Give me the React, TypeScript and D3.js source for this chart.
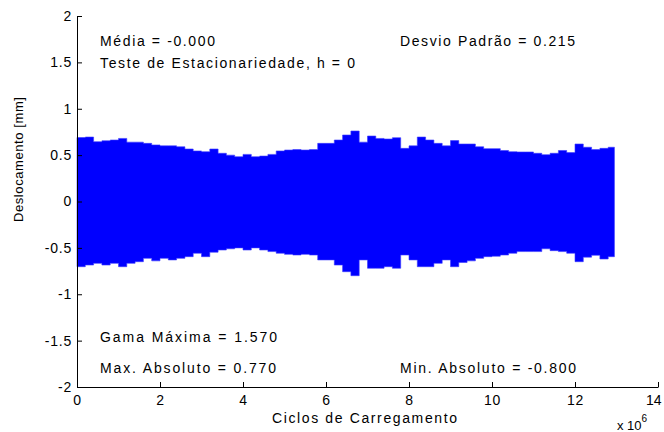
import { useEffect, useRef } from "react"
import * as d3 from "d3"

// envelope of the displacement signal, one value per 0.2e6 cycles
const upper: number[] = [
  0.69, 0.695, 0.645, 0.655, 0.663, 0.68, 0.64, 0.64, 0.627, 0.61,
  0.6, 0.6, 0.59, 0.566, 0.545, 0.537, 0.566, 0.52, 0.5, 0.483,
  0.508, 0.483, 0.49, 0.508, 0.545, 0.555, 0.56, 0.555, 0.56, 0.627,
  0.627, 0.663, 0.717, 0.76, 0.64, 0.706, 0.68, 0.674, 0.688, 0.573,
  0.6, 0.695, 0.663, 0.627, 0.6, 0.657, 0.62, 0.62, 0.59, 0.57,
  0.57, 0.55, 0.537, 0.534, 0.534, 0.52, 0.505, 0.52, 0.55, 0.527,
  0.62, 0.585, 0.56, 0.573, 0.585,
]
const lower: number[] = [
  -0.703, -0.685, -0.667, -0.685, -0.667, -0.703, -0.667, -0.649, -0.613, -0.64,
  -0.613, -0.63, -0.613, -0.595, -0.558, -0.595, -0.547, -0.523, -0.51, -0.5,
  -0.523, -0.5, -0.523, -0.54, -0.558, -0.57, -0.577, -0.57, -0.577, -0.63,
  -0.63, -0.685, -0.757, -0.8, -0.63, -0.72, -0.72, -0.703, -0.72, -0.577,
  -0.63, -0.703, -0.703, -0.667, -0.63, -0.703, -0.658, -0.64, -0.613, -0.595,
  -0.59, -0.577, -0.558, -0.54, -0.54, -0.54, -0.51, -0.53, -0.54, -0.558,
  -0.649, -0.6, -0.58, -0.62, -0.595,
]
const segmentWidth = 0.2 // x 10^6 cycles
const signalEnd = 12.95

const xTicks = [0, 2, 4, 6, 8, 10, 12, 14]
const yTicks = [-2, -1.5, -1, -0.5, 0, 0.5, 1, 1.5, 2]

const stats = [
  { text: "Média = -0.000", x: 100, y: 46, len: 115 },
  { text: "Teste de Estacionariedade, h = 0", x: 100, y: 68, len: 255 },
  { text: "Desvio Padrão = 0.215", x: 400, y: 46, len: 175 },
  { text: "Gama Máxima = 1.570", x: 100, y: 342, len: 177 },
  { text: "Max. Absoluto = 0.770", x: 100, y: 373, len: 176 },
  { text: "Min. Absoluto = -0.800", x: 400, y: 373, len: 176 },
]

type Seg = { x: number; hi: number; lo: number }

export default function App() {
  const svgRef = useRef<SVGSVGElement | null>(null)

  useEffect(() => {
    if (!svgRef.current) return
    const width = 664
    const height = 432
    const margin = { top: 16, right: 6, bottom: 45, left: 77 }
    const font = "'Liberation Sans', Arial, Helvetica, sans-serif"

    const svg = d3.select(svgRef.current).attr("width", width).attr("height", height)
    svg.selectAll("*").remove()
    svg.append("rect").attr("width", width).attr("height", height).attr("fill", "#fff")

    const x = d3.scaleLinear().domain([0, 14]).range([margin.left, width - margin.right])
    const y = d3.scaleLinear().domain([-2, 2]).range([height - margin.bottom, margin.top])

    const segs: Seg[] = upper.map((hi, i) => ({ x: i * segmentWidth, hi, lo: lower[i] }))
    segs.push({ x: signalEnd, hi: upper[upper.length - 1], lo: lower[lower.length - 1] })

    const area = d3
      .area<Seg>()
      .x(d => x(d.x))
      .y0(d => y(d.lo))
      .y1(d => y(d.hi))
      .curve(d3.curveStepAfter)

    svg
      .append("path")
      .datum(segs)
      .attr("fill", "#0000ff")
      .attr("stroke", "#3a3aff")
      .attr("stroke-width", 0.6)
      .attr("d", area)

    // axes, inward ticks like MATLAB
    const gx = svg
      .append("g")
      .attr("transform", `translate(0, ${y(-2)})`)
      .call(
        d3.axisBottom(x).tickValues(xTicks).tickSizeInner(-5).tickSizeOuter(0).tickPadding(8)
          .tickFormat(d => String(d))
      )
    const gy = svg
      .append("g")
      .attr("transform", `translate(${x(0)}, 0)`)
      .call(
        d3.axisLeft(y).tickValues(yTicks).tickSizeInner(-5).tickSizeOuter(0).tickPadding(5)
          .tickFormat(d => String(d))
      )
    for (const g of [gx, gy]) {
      g.select(".domain").attr("stroke", "#000")
      g.selectAll(".tick line").attr("stroke", "#000")
      g.selectAll("text")
        .attr("fill", "#000")
        .attr("font-family", font)
        .attr("font-size", 14)
        .attr("letter-spacing", 0.8)
    }
    // last x label sits against the page edge, as in the original
    gx.selectAll<SVGTextElement, number>(".tick text")
      .filter(d => d === 14)
      .attr("text-anchor", "end")
      .attr("letter-spacing", 0)
      .attr("x", 3)

    svg
      .selectAll(".stat")
      .data(stats)
      .join("text")
      .attr("class", "stat")
      .attr("x", d => d.x)
      .attr("y", d => d.y)
      .attr("textLength", d => d.len)
      .attr("lengthAdjust", "spacing")
      .attr("font-family", font)
      .attr("font-size", 14)
      .attr("fill", "#000")
      .text(d => d.text)

    svg
      .append("text")
      .attr("x", 272)
      .attr("y", 423)
      .attr("textLength", 185)
      .attr("lengthAdjust", "spacing")
      .attr("font-family", font)
      .attr("font-size", 14)
      .attr("fill", "#000")
      .text("Ciclos de Carregamento")

    svg
      .append("text")
      .attr("transform", "translate(23, 222) rotate(-90)")
      .attr("textLength", 125)
      .attr("lengthAdjust", "spacing")
      .attr("font-family", font)
      .attr("font-size", 13)
      .attr("fill", "#000")
      .text("Deslocamento [mm]")

    const exp = svg
      .append("text")
      .attr("x", 617)
      .attr("y", 430)
      .attr("font-family", font)
      .attr("font-size", 13)
      .attr("fill", "#000")
    exp.append("tspan").text("x 10")
    exp.append("tspan").attr("dy", -8).attr("font-size", 10).text("6")
  }, [])

  return (
    <div style={{ position: "absolute", left: 0, top: 0 }}>
      <svg ref={svgRef} style={{ display: "block" }} />
    </div>
  )
}
